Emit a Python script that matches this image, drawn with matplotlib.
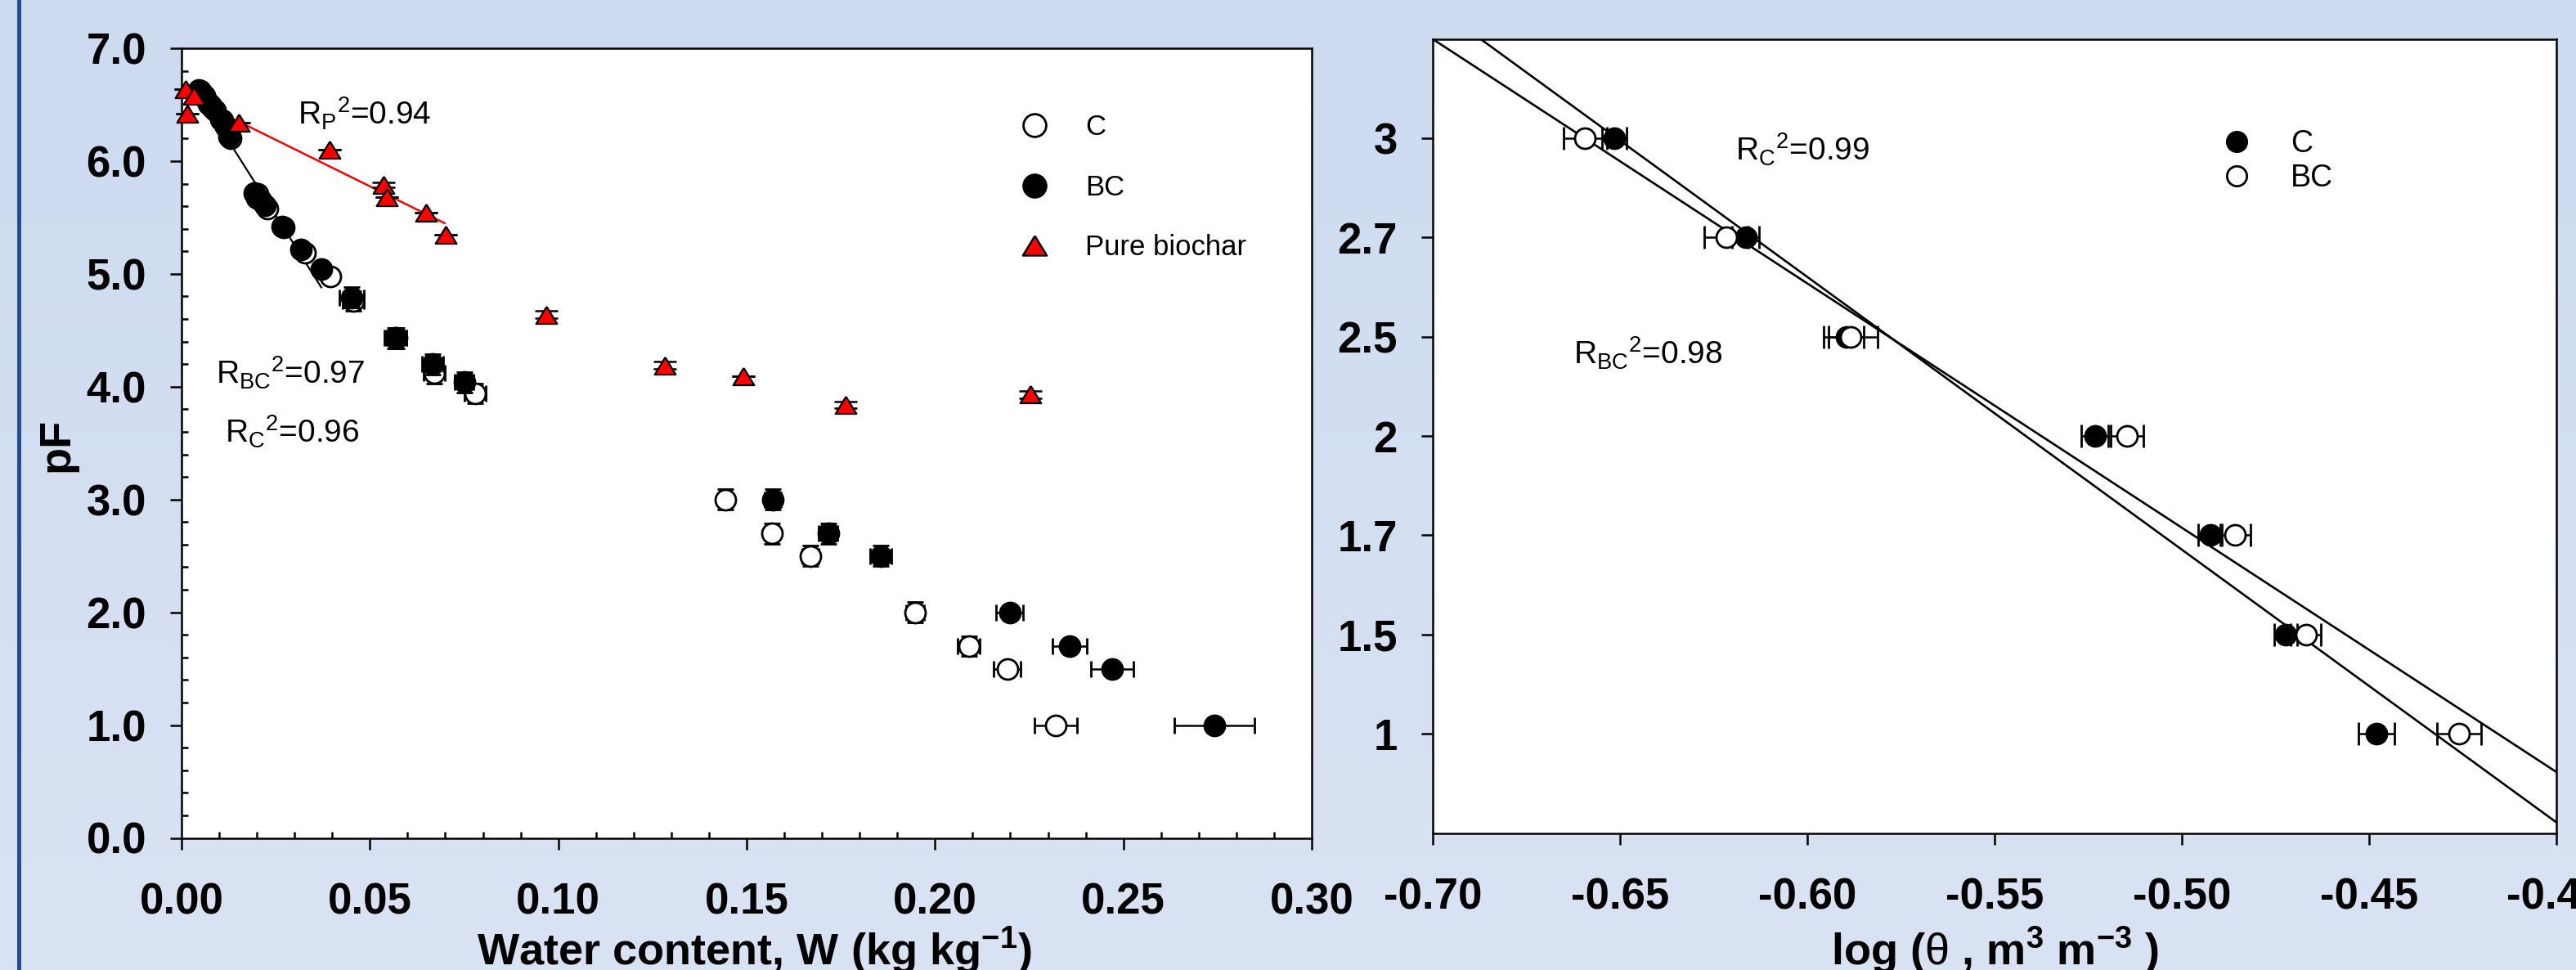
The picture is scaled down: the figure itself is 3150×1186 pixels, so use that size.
import numpy as np
import matplotlib
matplotlib.use("Agg")
import matplotlib.pyplot as plt
from matplotlib.lines import Line2D
from matplotlib.colors import LinearSegmentedColormap
from matplotlib.ticker import MultipleLocator, FixedLocator, FormatStrFormatter

plt.rcParams['font.family'] = ['Liberation Sans', 'DejaVu Sans']
plt.rcParams['mathtext.fontset'] = 'custom'
plt.rcParams['mathtext.rm'] = 'Liberation Sans'
plt.rcParams['mathtext.it'] = 'Liberation Sans:italic'
plt.rcParams['mathtext.bf'] = 'Liberation Sans:bold'
plt.rcParams['axes.unicode_minus'] = False

# ---------------- Left panel data: pF vs water content ----------------
c_w = [0.0050, 0.0064, 0.0076, 0.0088, 0.0108, 0.0120, 0.0130, 0.0202, 0.0210, 0.0228, 0.0272, 0.0328,
       0.0394, 0.0455, 0.0570, 0.0671, 0.0779, 0.1444, 0.1567, 0.1669, 0.1947, 0.2090, 0.2192, 0.2320]
c_pf = [6.62, 6.56, 6.50, 6.45, 6.36, 6.30, 6.20, 5.71, 5.65, 5.58, 5.41, 5.19,
        4.98, 4.76, 4.43, 4.12, 3.94, 3.00, 2.70, 2.50, 2.00, 1.70, 1.50, 1.00]
c_xerr = [0.001, 0.001, 0.001, 0.001, 0.001, 0.001, 0.001, 0.0015, 0.0015, 0.0015, 0.0015, 0.0015,
          0.0015, 0.0028, 0.0028, 0.0028, 0.0028, 0.0015, 0.0018, 0.0022, 0.0024, 0.0029, 0.0036, 0.0056]
c_yerr = [0.03, 0.03, 0.03, 0.03, 0.03, 0.03, 0.03, 0.05, 0.05, 0.05, 0.05, 0.05,
          0.05, 0.09, 0.09, 0.09, 0.09, 0.09, 0.09, 0.09, 0.09, 0.09, 0.05, 0.05]

bc_w = [0.0046, 0.0060, 0.0072, 0.0083, 0.0105, 0.0116, 0.0125, 0.0194, 0.0199, 0.0221, 0.0266, 0.0316,
        0.0372, 0.0452, 0.0567, 0.0667, 0.0750, 0.1570, 0.1716, 0.1856, 0.2198, 0.2357, 0.2470, 0.2742]
bc_pf = [6.63, 6.58, 6.51, 6.47, 6.37, 6.32, 6.22, 5.72, 5.67, 5.61, 5.42, 5.22,
         5.04, 4.79, 4.43, 4.20, 4.04, 3.00, 2.70, 2.50, 2.00, 1.70, 1.50, 1.00]
bc_xerr = [0.001, 0.001, 0.001, 0.001, 0.001, 0.001, 0.001, 0.0015, 0.0015, 0.0015, 0.0015, 0.0015,
           0.0015, 0.0032, 0.0029, 0.0028, 0.0026, 0.0022, 0.0025, 0.0028, 0.0036, 0.0045, 0.0056, 0.0106]
bc_yerr = [0.03, 0.03, 0.03, 0.03, 0.03, 0.03, 0.03, 0.05, 0.05, 0.05, 0.05, 0.05,
           0.05, 0.09, 0.09, 0.09, 0.09, 0.09, 0.09, 0.09, 0.05, 0.05, 0.05, 0.05]

p_w = [0.0010, 0.0016, 0.0033, 0.0152, 0.0393, 0.0537, 0.0545, 0.0648, 0.0701, 0.0969, 0.1282, 0.1492, 0.1762, 0.2254]
p_pf = [6.64, 6.42, 6.58, 6.34, 6.10, 5.79, 5.68, 5.54, 5.35, 4.64, 4.19, 4.09, 3.84, 3.93]
p_yerr = [0.0, 0.0, 0.0, 0.0, 0.0, 0.02, 0.0, 0.0, 0.0, 0.03, 0.03, 0.0, 0.03, 0.03]

# fitted lines (endpoints)
fit_soil_w = [0.0045, 0.0371]
fit_soil_pf = [6.60, 4.88]
fit_p_w = [0.0152, 0.0698]
fit_p_pf = [6.35, 5.45]

left_xticks = [0.00, 0.05, 0.10, 0.15, 0.20, 0.25, 0.30]
left_yticks = [0.0, 1.0, 2.0, 3.0, 4.0, 5.0, 6.0, 7.0]

# ---------------- Right panel data: pF vs log(theta) ----------------
pf_levels = ['3', '2.7', '2.5', '2', '1.7', '1.5', '1']
c_logt = [-0.6515, -0.6164, -0.5895, -0.5232, -0.4924, -0.4722, -0.4480]
c_logt_err = [0.0033, 0.0036, 0.0047, 0.0036, 0.0032, 0.0030, 0.0048]
bc_logt = [-0.6593, -0.6215, -0.5884, -0.5145, -0.4857, -0.4668, -0.4259]
bc_logt_err = [0.0058, 0.0059, 0.0072, 0.0044, 0.0040, 0.0040, 0.0060]

fit_c_x = [-0.6872, -0.40]
fit_c_pos = [7.0, -0.89]
fit_bc_x = [-0.70, -0.40]
fit_bc_pos = [7.0, -0.383]

right_xticks = [-0.70, -0.65, -0.60, -0.55, -0.50, -0.45, -0.40]

# ---------------- Figure ----------------
W, H = 3150, 1186
fig = plt.figure(figsize=(W / 100, H / 100), dpi=100)

bg = fig.add_axes([0, 0, 1, 1], zorder=-10)
grad = np.linspace(0, 1, 256)[:, None]
cmap_bg = LinearSegmentedColormap.from_list('bg', ['#cddaf0', '#dae3f3'])
bg.imshow(grad, aspect='auto', cmap=cmap_bg, extent=[0, 1, 0, 1])
bg.axis('off')

fig.add_artist(Line2D([23 / W, 23 / W], [0, 1], color='#1c4f9e', lw=3.6, transform=fig.transFigure))

tick_fs = 38
lab_fs = 39
spine_w = 1.8


def style_axes(ax):
    for s in ax.spines.values():
        s.set_linewidth(spine_w)
        s.set_color('black')
    ax.tick_params(which='major', direction='out', length=10, width=1.8, labelsize=tick_fs,
                   top=False, right=False)
    ax.tick_params(axis='x', which='major', pad=29)
    ax.tick_params(axis='y', which='major', pad=21)
    for lab in ax.get_xticklabels() + ax.get_yticklabels():
        lab.set_fontweight('bold')


def unclip(cont):
    for art in cont.get_children():
        art.set_clip_on(False)


# ----- Left axes -----
ax1 = fig.add_axes([222 / W, 1 - 1024.5 / H, (1604 - 222) / W, (1024.5 - 59) / H])
ax1.set_facecolor('white')
ax1.set_xlim(0, 0.30)
ax1.set_ylim(0, 7.0)
ax1.xaxis.set_major_locator(FixedLocator(left_xticks))
ax1.yaxis.set_major_locator(FixedLocator(left_yticks))
ax1.xaxis.set_major_formatter(FormatStrFormatter('%.2f'))
ax1.yaxis.set_major_formatter(FormatStrFormatter('%.1f'))
ax1.xaxis.set_minor_locator(MultipleLocator(0.01))
ax1.yaxis.set_minor_locator(MultipleLocator(0.2))
ax1.tick_params(which='minor', direction='in', length=5.5, width=1.8, top=False, right=False)
style_axes(ax1)

ax1.plot(fit_soil_w, fit_soil_pf, color='black', lw=1.6, zorder=2)
ax1.plot(fit_p_w, fit_p_pf, color='#ff0000', lw=1.8, zorder=2)

ms_c = 18
e1 = ax1.errorbar(c_w, c_pf, xerr=c_xerr, yerr=c_yerr, fmt='o', mfc='white', mec='black', ms=ms_c, mew=2.0,
                  ecolor='black', elinewidth=1.8, capsize=7, capthick=1.8, zorder=3)
e2 = ax1.errorbar(bc_w, bc_pf, xerr=bc_xerr, yerr=bc_yerr, fmt='o', mfc='black', mec='black', ms=ms_c, mew=2.0,
                  ecolor='black', elinewidth=1.8, capsize=7, capthick=1.8, zorder=4)
tri = [(0, 0.82), (-1, -0.82), (1, -0.82), (0, 0.82)]
e3 = ax1.errorbar(p_w, p_pf, yerr=p_yerr, fmt='none', ecolor='black', elinewidth=1.8, capsize=10,
                  capthick=1.8, zorder=5)
ax1.plot(p_w, p_pf, ls='none', marker=tri, ms=18.5, mfc='#ff0000', mec='black', mew=1.6, zorder=6, clip_on=False)
for c in (e1, e2, e3):
    unclip(c)

ann_fs = 28
ax1.text(0.0308, 6.32, r'$\mathrm{R_P{}^2}$=0.94', fontsize=ann_fs, va='baseline', ha='left')
ax1.text(0.0091, 4.02, r'$\mathrm{R_{BC}{}^2}$=0.97', fontsize=ann_fs, va='baseline', ha='left')
ax1.text(0.0114, 3.50, r'$\mathrm{R_C{}^2}$=0.96', fontsize=ann_fs, va='baseline', ha='left')

h_c = Line2D([], [], ls='none', marker='o', mfc='white', mec='black', ms=20, mew=2.0)
h_bc = Line2D([], [], ls='none', marker='o', mfc='black', mec='black', ms=20, mew=2.0)
h_p = Line2D([], [], ls='none', marker=tri, mfc='#ff0000', mec='black', ms=21, mew=1.8)
ax1.legend([h_c, h_bc, h_p], ['C', 'BC', 'Pure biochar'], loc='upper left', bbox_to_anchor=(0.7346, 0.917),
           frameon=False, fontsize=25, handlelength=1.6, handletextpad=1.0, labelspacing=1.17,
           borderpad=0, borderaxespad=0)

fig.text(922 / W, 6 / H, r'Water content, W (kg kg$^{\mathbf{-1}}$)', ha='center', va='baseline',
         fontsize=lab_fs, fontweight='bold')
fig.text(69 / W, 1 - 543.5 / H, 'pF', rotation=90, ha='center', va='center', fontsize=lab_fs, fontweight='bold')

# ----- Right axes -----
ax2 = fig.add_axes([1752 / W, 1 - 1018.5 / H, (3125.6 - 1752) / W, (1018.5 - 47.8) / H])
ax2.set_facecolor('white')
level_pos = np.arange(len(pf_levels))[::-1]
ax2.set_xlim(-0.70, -0.40)
ax2.set_ylim(-1, len(pf_levels))
ax2.xaxis.set_major_locator(FixedLocator(right_xticks))
ax2.xaxis.set_major_formatter(FormatStrFormatter('%.2f'))
ax2.set_yticks(level_pos)
ax2.set_yticklabels(pf_levels)
style_axes(ax2)

ax2.plot(fit_c_x, fit_c_pos, color='black', lw=1.9, zorder=2)
ax2.plot(fit_bc_x, fit_bc_pos, color='black', lw=1.9, zorder=2)

e4 = ax2.errorbar(c_logt, level_pos, xerr=c_logt_err, fmt='o', mfc='black', mec='black', ms=18, mew=2.0,
                  ecolor='black', elinewidth=1.8, capsize=10, capthick=1.8, zorder=3)
e5 = ax2.errorbar(bc_logt, level_pos, xerr=bc_logt_err, fmt='o', mfc='white', mec='black', ms=18, mew=2.0,
                  ecolor='black', elinewidth=1.8, capsize=10, capthick=1.8, zorder=4)

ax2.text(-0.6192, 5.77, r'$\mathrm{R_C{}^2}$=0.99', fontsize=ann_fs, va='baseline', ha='left')
ax2.text(-0.6624, 3.72, r'$\mathrm{R_{BC}{}^2}$=0.98', fontsize=ann_fs, va='baseline', ha='left')

h2_c = Line2D([], [], ls='none', marker='o', mfc='black', mec='black', ms=17.5, mew=2.0)
h2_bc = Line2D([], [], ls='none', marker='o', mfc='white', mec='black', ms=17.5, mew=2.0)
ax2.legend([h2_c, h2_bc], ['C', 'BC'], loc='upper left', bbox_to_anchor=(0.6937, 0.886),
           frameon=False, fontsize=27, handlelength=1.6, handletextpad=0.96, labelspacing=0.15,
           borderpad=0, borderaxespad=0)

fig.text(2440 / W, 6 / H, r'log ($\mathrm{θ}$ , m$^{\mathbf{3}}$ m$^{\mathbf{-3}}$ )', ha='center', va='baseline',
         fontsize=lab_fs, fontweight='bold')

fig.savefig('out.png', dpi=100)
